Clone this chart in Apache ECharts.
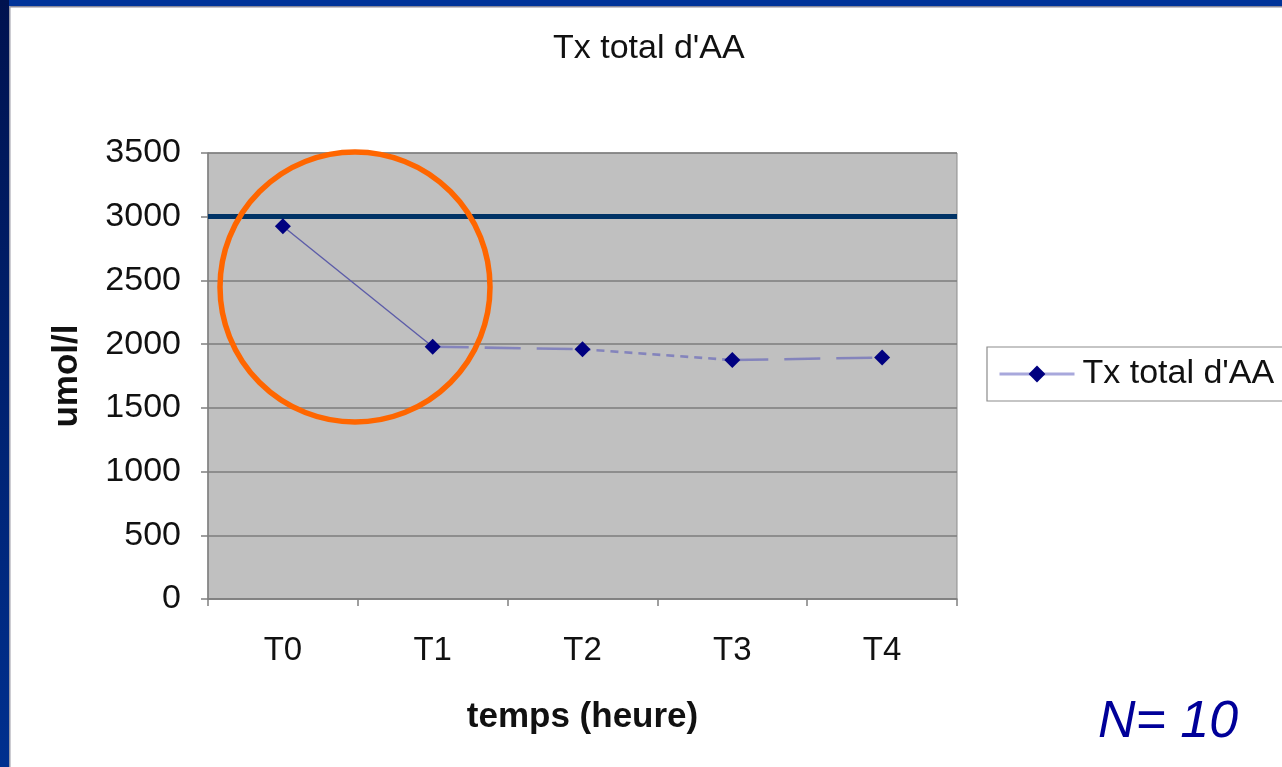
<!DOCTYPE html>
<html>
<head>
<meta charset="utf-8">
<script src="https://cdn.jsdelivr.net/npm/echarts@6/dist/echarts.min.js"></script>
<style>
  html, body { margin: 0; padding: 0; background: #ffffff; }
  #chart { width: 1282px; height: 767px; }
</style>
</head>
<body>
<div id="chart"></div>
<script>
// Total amino-acid level (umol/l) measured at each time point
const categories = ['T0', 'T1', 'T2', 'T3', 'T4'];
const totalAA = [2925, 1980, 1960, 1875, 1895];
const threshold = 3000;
const seriesName = "Tx total d'AA";
const yMin = 0, yMax = 3500, yStep = 500;

const FONT = "'Liberation Sans', Arial, sans-serif";
const lineColor = '#8484bc';
// stroke style of each segment between consecutive points
const segmentDash = ['solid', [36, 16], [8, 6], [36, 16]];

const chart = echarts.init(document.getElementById('chart'), null, { renderer: 'canvas' });

// one series per segment so each segment keeps its own dash pattern
const segmentSeries = segmentDash.map((dash, i) => ({
  type: 'line',
  name: 'seg' + i,
  data: totalAA.map((v, j) => (j === i || j === i + 1) ? v : '-'),
  showSymbol: false,
  symbol: 'none',
  silent: true,
  z: 3,
  lineStyle: { color: i === 0 ? '#5c5ca8' : lineColor, width: i === 0 ? 1.4 : 2.6, type: dash }
}));

chart.setOption({
  animation: false,
  backgroundColor: '#ffffff',
  title: {
    text: seriesName,
    left: 553,
    top: 32,
    padding: 0,
    textStyle: { fontFamily: FONT, fontSize: 34, fontWeight: 'normal', color: '#111' }
  },
  legend: {
    data: [seriesName],
    left: 987,
    top: 347,
    padding: [10, 12, 10, 11],
    itemWidth: 75,
    itemHeight: 21,
    itemGap: 5,
    borderColor: '#8c8c8c',
    borderWidth: 1.2,
    borderRadius: 0,
    textStyle: { fontFamily: FONT, fontSize: 34, color: '#111', padding: [0, 0, 0, 3] },
    lineStyle: { opacity: 1, color: '#a8a8dc', width: 3, type: 'solid' },
    itemStyle: { color: '#000080' }
  },
  grid: {
    left: 208, top: 153, right: 325, bottom: 168,
    show: true, backgroundColor: '#c0c0c0', borderColor: '#8c8c8c', borderWidth: 1,
    containLabel: false
  },
  xAxis: {
    type: 'category',
    data: categories,
    boundaryGap: true,
    name: 'temps (heure)',
    nameLocation: 'middle',
    nameGap: 101,
    nameTextStyle: { fontFamily: FONT, fontSize: 35, fontWeight: 'bold', color: '#111' },
    axisLine: { lineStyle: { color: '#808080', width: 1.5 } },
    axisTick: { show: true, length: 7, lineStyle: { color: '#808080', width: 1.5 } },
    axisLabel: { fontFamily: FONT, fontSize: 33, color: '#111', margin: 35 },
    splitLine: { show: false }
  },
  yAxis: {
    type: 'value',
    min: yMin, max: yMax, interval: yStep,
    name: 'umol/l',
    nameLocation: 'middle',
    nameGap: 123,
    nameTextStyle: { fontFamily: FONT, fontSize: 35, fontWeight: 'bold', color: '#111' },
    axisLine: { show: true, lineStyle: { color: '#808080', width: 1.5 } },
    axisTick: { show: true, length: 7, lineStyle: { color: '#808080', width: 1.5 } },
    axisLabel: {
      fontFamily: FONT, fontSize: 34, color: '#111', margin: 27,
      formatter: (v) => String(v)
    },
    splitLine: { show: true, lineStyle: { color: '#7c7c7c', width: 1.5 } }
  },
  series: [
    {
      type: 'line',
      name: seriesName,
      data: totalAA,
      symbol: 'diamond',
      symbolSize: 16,
      z: 5,
      itemStyle: { color: '#000080' },
      lineStyle: { opacity: 0, color: lineColor },
      markLine: {
        silent: true,
        symbol: 'none',
        label: { show: false },
        lineStyle: { color: '#003366', width: 5, type: 'solid' },
        data: [{ yAxis: threshold }]
      }
    },
    ...segmentSeries
  ],
  graphic: [
    // slide frame: top band and left band
    { type: 'rect', left: 0, top: 0, shape: { width: 1282, height: 6 }, style: { fill: '#003399' }, z: 100 },
    { type: 'rect', left: 0, top: 6, shape: { width: 1282, height: 1.5 }, style: { fill: '#8a8a9a' }, z: 100 },
    {
      type: 'rect', left: 0, top: 0, shape: { width: 9, height: 767 }, z: 101,
      style: {
        fill: new echarts.graphic.LinearGradient(0, 0, 0, 1, [
          { offset: 0, color: '#00124f' },
          { offset: 1, color: '#00308f' }
        ])
      }
    },
    { type: 'rect', left: 9, top: 6, shape: { width: 1.5, height: 761 }, style: { fill: '#9a9aa6' }, z: 101 },
    // highlight circle around the first drop
    {
      type: 'circle', shape: { cx: 355, cy: 287, r: 135 }, z: 50,
      style: { fill: null, stroke: '#ff6600', lineWidth: 5.5 }
    },
    {
      type: 'text', left: 1098, top: 697, z: 50,
      style: { text: 'N= 10', font: 'italic 52px ' + FONT, fill: '#000099' }
    }
  ]
});
</script>
</body>
</html>
